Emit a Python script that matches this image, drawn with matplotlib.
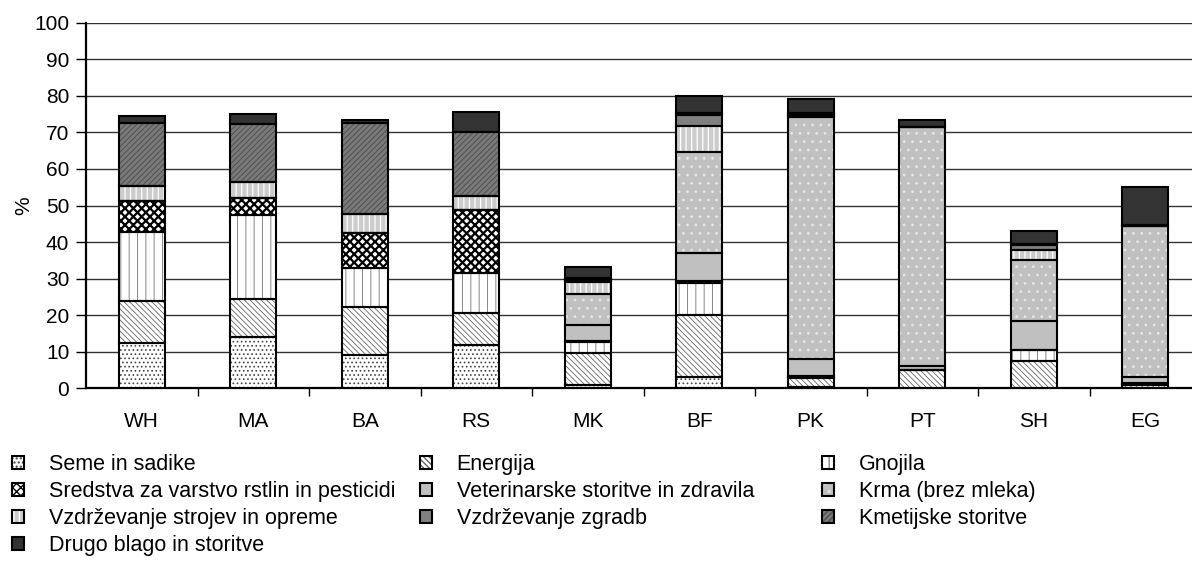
import numpy as np
import matplotlib
matplotlib.use("Agg")
import matplotlib.pyplot as plt

plt.rcParams["font.family"] = ["Liberation Sans", "DejaVu Sans"]

categories = ["WH", "MA", "BA", "RS", "MK", "BF", "PK", "PT", "SH", "EG"]

# shares (%) per cost item, bottom to top of each bar
seme        = [12.3, 14.1,  9.1, 11.8, 0.8,  3.1,  0.3,  0.2, 0.2,  0.2]
energija    = [11.6, 10.3, 13.2,  8.7, 8.9, 16.9,  2.5,  4.8, 7.3,  0.8]
gnojila     = [18.8, 22.9, 10.7, 11.0, 2.9,  8.7,  0.3,  0.0, 2.9,  0.3]
sredstva    = [ 8.5,  4.8,  9.4, 17.2, 0.4,  0.7,  0.4,  0.0, 0.0,  0.2]
veterina    = [ 0.0,  0.0,  0.0,  0.0, 4.3,  7.5,  4.6,  1.2, 8.0,  1.5]
krma        = [ 0.0,  0.0,  0.0,  0.0, 8.6, 27.7, 66.2, 65.2, 16.7, 41.5]
vzd_strojev = [ 4.1,  4.4,  5.3,  4.0, 3.3,  7.1,  0.2,  0.0, 2.7,  0.0]
vzd_zgradb  = [ 0.0,  0.0,  0.0,  0.0, 0.5,  3.0,  0.5,  0.0, 1.5,  0.0]
kmetijske   = [17.2, 15.8, 24.8, 17.4, 0.4,  0.5,  0.3,  0.0, 0.3,  0.3]
drugo       = [ 2.0,  2.8,  1.0,  5.4, 3.1,  4.8,  3.7,  2.0, 3.3, 10.2]

labels = ["Seme in sadike", "Energija", "Gnojila",
          "Sredstva za varstvo rstlin in pesticidi",
          "Veterinarske storitve in zdravila", "Krma (brez mleka)",
          "Vzdrževanje strojev in opreme", "Vzdrževanje zgradb",
          "Kmetijske storitve", "Drugo blago in storitve"]
series = [seme, energija, gnojila, sredstva, veterina, krma,
          vzd_strojev, vzd_zgradb, kmetijske, drugo]

# (face, hatch, hatch colour, hatch linewidth)
styles = [
    ("white",   "....",       "#444444", 0.7),
    ("white",   "\\\\\\\\\\\\", "#666666", 0.6),
    ("white",   "||",         "#888888", 0.7),
    ("white",   "xxxx",       "black",   1.6),
    ("#c0c0c0", None,         "#c0c0c0", 0.7),
    ("#c0c0c0", "..",         "#e6e6e6", 0.8),
    ("#cccccc", "|||",        "white",   0.9),
    ("#808080", None,         "#808080", 0.7),
    ("#7a7a7a", "//////",     "#505050", 0.7),
    ("#333333", None,         "#333333", 0.7),
]

fs = 15

fig = plt.figure(figsize=(11.92, 5.85), dpi=100)
ax = fig.add_axes([86 / 1192, 0.3362, (1192 - 86) / 1192, 0.625])

x = np.arange(len(categories))
width = 0.41
bottom = np.zeros(len(categories))
handles = []
for vals, (face, hatch, hcol, hlw) in zip(series, styles):
    vals = np.array(vals)
    with plt.rc_context({"hatch.linewidth": hlw}):
        b1 = ax.bar(x, vals, width, bottom=bottom, color=face, edgecolor=hcol,
                    hatch=hatch, linewidth=0, zorder=3)
    b2 = ax.bar(x, vals, width, bottom=bottom, fill=False, edgecolor="black",
                linewidth=1.5, zorder=4)
    handles.append((b1, b2))
    bottom += vals

ax.set_xlim(-0.5, -0.5 + 1106 / 111.5)
ax.set_ylim(0, 100)
ax.set_yticks(np.arange(0, 101, 10))
ax.yaxis.grid(True, color="#333333", linewidth=1.0, zorder=0)
ax.set_axisbelow(True)

ax.set_xticks(x)
ax.set_xticklabels(categories)
ax.set_xticks(np.arange(0.5, 9, 1), minor=True)
ax.tick_params(axis="x", which="major", length=0, pad=17, labelsize=fs)
ax.tick_params(axis="x", which="minor", length=6, width=1, direction="out")
ax.tick_params(axis="y", length=7, width=1, direction="out", pad=5, labelsize=fs)

for s in ["top", "right"]:
    ax.spines[s].set_visible(False)
ax.spines["left"].set_linewidth(1.6)
ax.spines["bottom"].set_linewidth(1.6)

ax.set_ylabel("%", fontsize=fs, labelpad=1)

# legend in three columns, filled row by row
cols = [[0, 3, 6, 9], [1, 4, 7], [2, 5, 8]]
col_x = [12, 420, 822]
for idx, cx in zip(cols, col_x):
    fig.legend([handles[i] for i in idx], [labels[i] for i in idx],
               loc="upper left", bbox_to_anchor=(cx / 1192, (585 - 454) / 585),
               frameon=False, fontsize=15.5, borderpad=0, borderaxespad=0,
               handlelength=0.55, handleheight=0.55, handletextpad=1.15,
               labelspacing=0.28)

fig.savefig("out.png", dpi=100)
